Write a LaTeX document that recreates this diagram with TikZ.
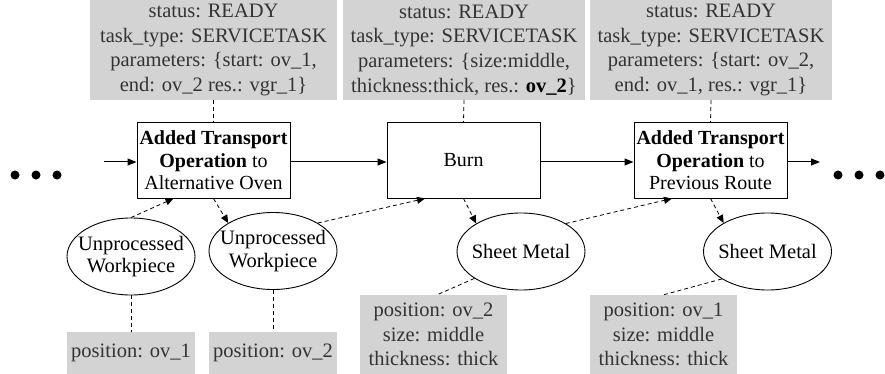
\documentclass[tikz,border=0pt]{standalone}
\usepackage{fontspec}
\setmainfont{Liberation Serif}
\usetikzlibrary{arrows.meta,shapes.geometric}
\definecolor{infogray}{RGB}{211,211,211}
\definecolor{infotext}{RGB}{51,51,51}
\begin{document}
\begin{tikzpicture}[x=1pt,y=-1pt,
  info/.style={fill=infogray, text=infotext, align=center, inner sep=0pt,
    font=\fontsize{20.5}{24.7}\selectfont},
  taskbox/.style={draw, line width=1pt, fill=white, align=center, inner sep=0pt,
    minimum width=153pt, minimum height=75pt, font=\fontsize{20}{22.5}\selectfont},
  obj/.style={ellipse, draw, line width=0.9pt, align=center, inner xsep=-9pt, inner ysep=0pt,
    minimum width=128pt, minimum height=77pt, font=\fontsize{20.5}{22.5}\selectfont},
  flow/.style={line width=1pt, -{Triangle[length=9pt,width=7pt]}},
  link/.style={line width=0.8pt, dash pattern=on 4pt off 3pt},
  dlink/.style={link, -{Triangle[length=8pt,width=7pt]}},
  dot/.style={circle, fill=black, inner sep=0pt, minimum size=9pt}
]
\useasboundingbox (0,0) rectangle (885,374);

% top info boxes
\node[info, minimum width=247pt, minimum height=100pt] (g1) at (213.5,50)
  {status: READY\\task\_type: SERVICETASK\\parameters: \{start: ov\_1,\\end: ov\_2 res.: vgr\_1\}};
\node[info, minimum width=242pt, minimum height=100pt] (g2) at (464,50)
  {status: READY\\task\_type: SERVICETASK\\parameters: \{size:middle,\\thickness:thick, res.: \textbf{\color{black}ov\_2}\}};
\node[info, minimum width=242pt, minimum height=100pt] (g3) at (711,50)
  {status: READY\\task\_type: SERVICETASK\\parameters: \{start: ov\_2,\\end: ov\_1, res.: vgr\_1\}};

% task boxes
\node[taskbox] (t1) at (213.5,160.5)
  {\textbf{Added Transport}\\\textbf{Operation} to\\Alternative Oven};
\node[taskbox] (t2) at (463.5,160.5) {Burn};
\node[taskbox] (t3) at (710.5,160.5)
  {\textbf{Added Transport}\\\textbf{Operation} to\\Previous Route};

% objects
\node[obj] (e1) at (131,256.5) {Unprocessed\\Workpiece};
\node[obj] (e2) at (273,251) {Unprocessed\\Workpiece};
\node[obj] (s1) at (521,251.5) {Sheet Metal};
\node[obj] (s2) at (767.5,251.5) {Sheet Metal};

% bottom info boxes
\node[info, minimum width=128pt, minimum height=42pt] (p1) at (131,353) {position: ov\_1};
\node[info, minimum width=128pt, minimum height=42pt] (p2) at (273,353) {position: ov\_2};
\node[info, minimum width=147pt, minimum height=79pt] (q1) at (433.5,334.5)
  {position: ov\_2\\size: middle\\thickness: thick};
\node[info, minimum width=147pt, minimum height=79pt] (q2) at (663.5,334.5)
  {position: ov\_1\\size: middle\\thickness: thick};

% ellipsis dots
\node[dot] (l1) at (15,175) {};
\node[dot] (l2) at (36,175) {};
\node[dot] (l3) at (57,175) {};
\node[dot] (r1) at (838,175) {};
\node[dot] (r2) at (859,175) {};
\node[dot] (r3) at (880,175) {};

\coordinate (in) at (104,162);
\coordinate (out) at (820,162);

% main flow
\draw[flow] (in) -- (in -| t1.west);
\draw[flow] (t1.east |- in) -- (t2.west |- in);
\draw[flow] (t2.east |- in) -- (t3.west |- in);
\draw[flow] (t3.east |- in) -- (out);

% info links
\draw[link] (g1.south) -- (t1.north);
\draw[link] (g2.south) -- (t2.north);
\draw[link] (g3.south) -- (t3.north);
\draw[link] (e1.south) -- (p1.north);
\draw[link] (e2.south) -- (p2.north);
\draw[link] (s1.210) -- ([xshift=3.5pt]q1.north);
\draw[link] (s2.211) -- (q2.north);

% object flow
\draw[dlink] (e1.north) -- ([xshift=-40pt]t1.south);
\draw[dlink] (t1.south) -- (e2.148);
\draw[dlink] (e2.32) -- ([xshift=-38.5pt]t2.south);
\draw[dlink] (t2.south) -- (s1.148);
\draw[dlink] (s1.32) -- ([xshift=-38.5pt]t3.south);
\draw[dlink] (t3.south) -- (s2.147);
\end{tikzpicture}
\end{document}
